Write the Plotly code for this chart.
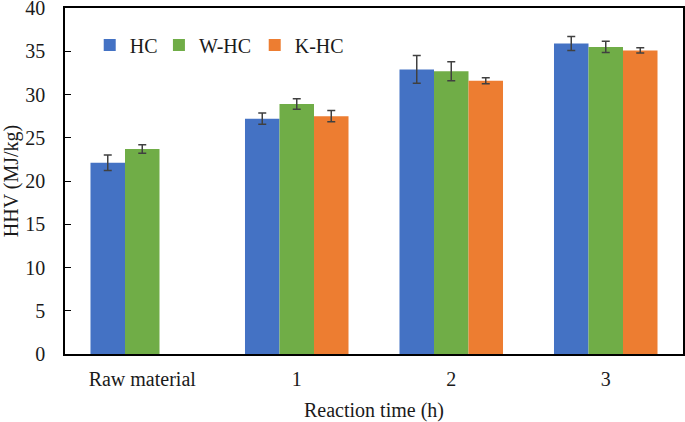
import plotly.graph_objects as go

categories = ["Raw material", "1", "2", "3"]
hc = [22.1, 27.2, 32.9, 35.9]
whc = [23.7, 28.9, 32.7, 35.5]
khc = [None, 27.5, 31.6, 35.1]
hc_err = [0.9, 0.65, 1.6, 0.8]
whc_err = [0.5, 0.6, 1.1, 0.65]
khc_err = [0, 0.65, 0.35, 0.3]

series = [
    ("HC", hc, hc_err, "#4472C4", "legend", 0.040),
    ("W-HC", whc, whc_err, "#70AD47", "legend2", 0.152),
    ("K-HC", khc, khc_err, "#ED7D31", "legend3", 0.307),
]

FONT = "Liberation Serif, Times New Roman, serif"
TXT = "#1a1a1a"

fig = go.Figure()
legends = {}
for name, vals, errs, color, leg, lx in series:
    fig.add_trace(go.Bar(
        name=name, x=categories, y=vals, legend=leg, showlegend=True,
        marker=dict(color=color, line=dict(width=0)),
        error_y=dict(type="data", array=errs, visible=True,
                     color="#404040", thickness=1.5, width=4),
    ))
    legends[leg] = dict(orientation="h", x=lx, y=0.893, xanchor="left", yanchor="middle",
                        font=dict(family=FONT, size=20, color=TXT),
                        bgcolor="rgba(0,0,0,0)", itemwidth=30)

fig.update_layout(
    width=685, height=422, showlegend=True,
    margin=dict(l=65, r=2, t=8, b=68, autoexpand=False),
    paper_bgcolor="white", plot_bgcolor="white",
    barmode="group", bargap=0.33, bargroupgap=0,
    font=dict(family=FONT, size=21, color=TXT),
    xaxis=dict(
        showline=True, linecolor="black", linewidth=1.5, mirror=True,
        ticks="", automargin=False, ticklabelstandoff=6,
        tickfont=dict(family=FONT, size=20, color=TXT),
        title=dict(text="Reaction time (h)", font=dict(family=FONT, size=20, color=TXT),
                   standoff=14),
    ),
    yaxis=dict(
        range=[0, 40], dtick=5, showgrid=False, zeroline=False,
        showline=True, linecolor="black", linewidth=1.5, mirror=True,
        ticks="inside", ticklen=6, tickcolor="black", tickwidth=1,
        automargin=False, ticklabeloverflow="allow", ticklabelstandoff=14,
        tickfont=dict(family=FONT, size=20, color=TXT),
        title=dict(text="HHV (MJ/kg)", font=dict(family=FONT, size=20, color=TXT),
                   standoff=8),
    ),
    **legends,
)

fig.write_html("out.html", config={"displayModeBar": False},
               post_script="document.body.style.margin='0';")
